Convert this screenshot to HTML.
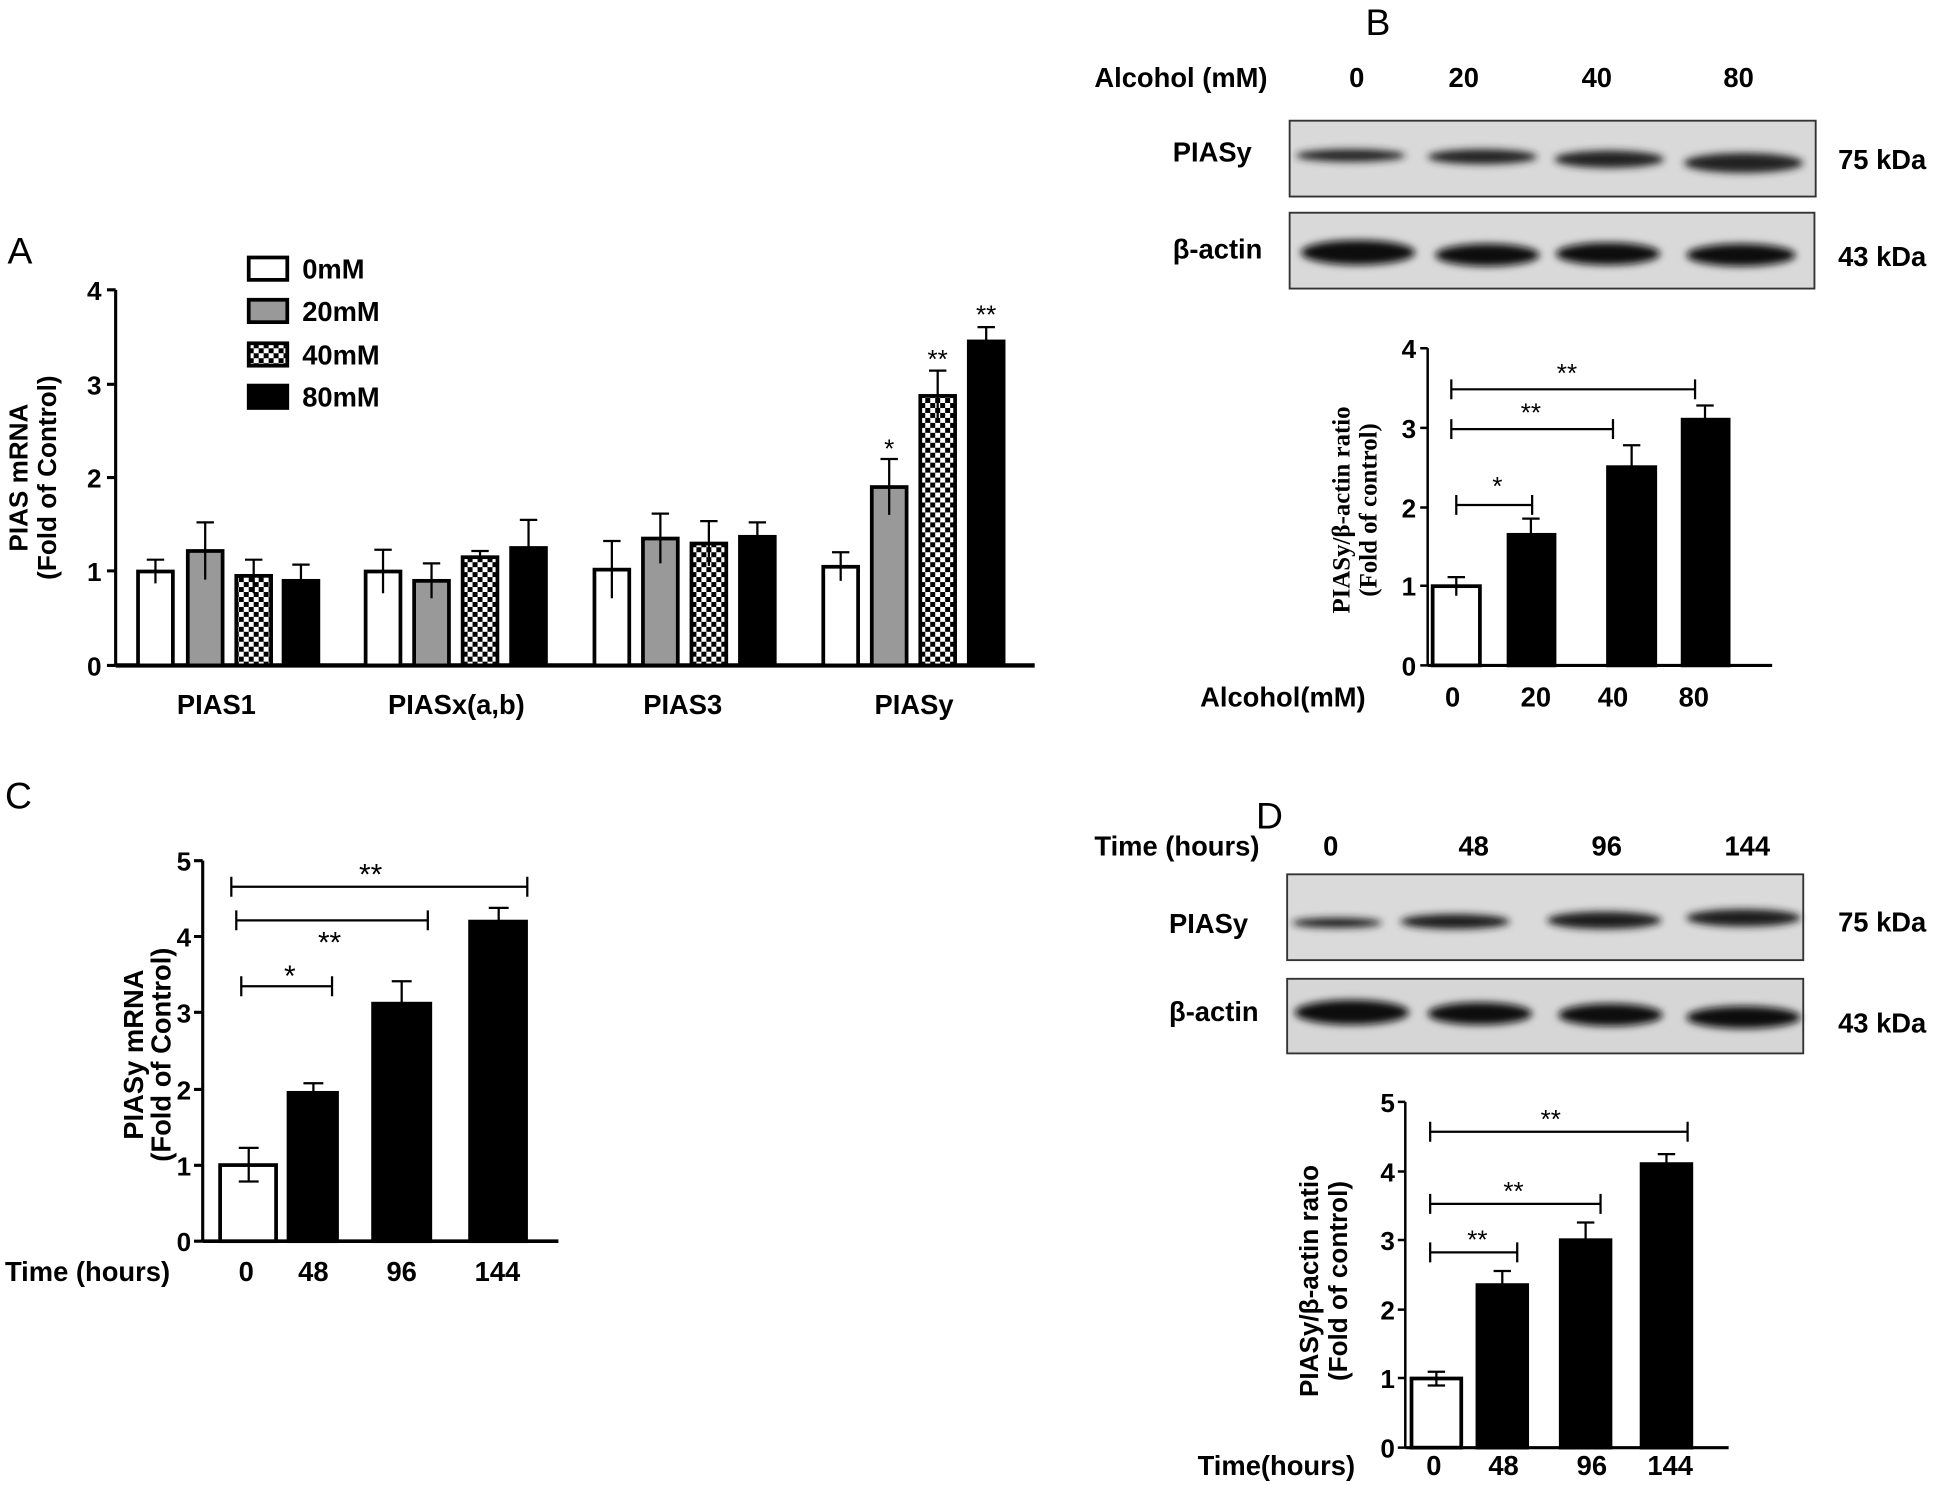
<!DOCTYPE html>
<html><head><meta charset="utf-8"><style>
html,body{margin:0;padding:0;background:#fff}
svg{display:block}
text{font-family:"Liberation Sans Narrow","Liberation Sans",sans-serif;font-weight:bold;fill:#000}
.p{font-family:"Liberation Sans",sans-serif;font-weight:normal;font-size:30px}
.t{font-size:22px}
.tk{font-size:21px}
.s{font-size:21px;font-family:"Liberation Sans",sans-serif;font-weight:normal}
.yl{font-family:"Liberation Sans",sans-serif;font-size:21px}
.ser{font-family:"Liberation Serif",serif;font-size:20px}
</style></head><body>
<svg width="1950" height="1485" viewBox="0 0 1568 1194" xmlns="http://www.w3.org/2000/svg">
<defs>
<pattern id="chk" width="8" height="8" patternUnits="userSpaceOnUse"><rect width="8" height="8" fill="#fff"/><rect width="4" height="4" fill="#000"/><rect x="4" y="4" width="4" height="4" fill="#000"/></pattern>
<filter id="bl" x="-20%" y="-50%" width="140%" height="200%"><feGaussianBlur stdDeviation="3"/></filter>
</defs>
<rect width="1568" height="1194" fill="#fff"/>

<!-- Panel A -->
<text class="p" x="6" y="212">A</text>
<g stroke="#000" stroke-width="3">
<rect x="200" y="207" width="31" height="18" fill="#fff"/>
<rect x="200" y="241" width="31" height="18" fill="#999"/>
<rect x="200" y="276" width="31" height="18" fill="url(#chk)"/>
<rect x="200" y="310" width="31" height="18" fill="#000"/>
</g>
<text class="t" x="243" y="224">0mM</text>
<text class="t" x="243" y="258">20mM</text>
<text class="t" x="243" y="293">40mM</text>
<text class="t" x="243" y="327">80mM</text>
<g stroke="#000" stroke-width="2.5" fill="none">
<path d="M93,233V535M86,233H93M86,309H93M86,384H93M86,459H93M86,535H93"/>
<path d="M93,535H832" stroke-width="3.5"/>
</g>
<text x="70" y="241" class="tk">4</text><text x="70" y="317" class="tk">3</text><text x="70" y="392" class="tk">2</text><text x="70" y="467" class="tk">1</text><text x="70" y="543" class="tk">0</text>
<g transform="translate(22,384) rotate(-90)"><text class="yl" text-anchor="middle" x="0" y="0">PIAS mRNA</text><text class="yl" text-anchor="middle" x="0" y="23">(Fold of Control)</text></g>
<g stroke="#000" stroke-width="1.8">
<path d="M125,450V469M118,450H132"/><path d="M165,420V466M158,420H172"/><path d="M204,450V477M197,450H211"/><path d="M242,454V480M235,454H249"/>
<path d="M308,442V477M301,442H315"/><path d="M347,453V481M340,453H354"/><path d="M386,443V454M379,443H393"/><path d="M425,418V463M418,418H432"/>
<path d="M492,435V481M485,435H499"/><path d="M531,413V453M524,413H538"/><path d="M570,419V455M563,419H577"/><path d="M609,420V443M602,420H616"/>
<path d="M676,444V467M669,444H683"/><path d="M715,369V414M708,369H722"/><path d="M754,298V339M747,298H761"/><path d="M793,263V286M786,263H800"/>
</g>
<g stroke="#000" stroke-width="3">
<rect x="111" y="459.5" width="28" height="75.5" fill="#fff"/><rect x="151" y="443" width="28" height="92" fill="#999"/><rect x="190" y="463" width="28" height="72" fill="url(#chk)"/><rect x="228" y="467" width="28" height="68" fill="#000"/>
<rect x="294" y="459.5" width="28" height="75.5" fill="#fff"/><rect x="333" y="467" width="28" height="68" fill="#999"/><rect x="372" y="448" width="28" height="87" fill="url(#chk)"/><rect x="411" y="440.6" width="28" height="94.4" fill="#000"/>
<rect x="478" y="458" width="28" height="77" fill="#fff"/><rect x="517" y="433" width="28" height="102" fill="#999"/><rect x="556" y="437" width="28" height="98" fill="url(#chk)"/><rect x="595" y="431.6" width="28" height="103.4" fill="#000"/>
<rect x="662" y="455.7" width="28" height="79.3" fill="#fff"/><rect x="701" y="391.6" width="28" height="143.4" fill="#999"/><rect x="740" y="318.3" width="28" height="216.7" fill="url(#chk)"/><rect x="779" y="274.5" width="28" height="260.5" fill="#000"/>
</g>
<g stroke="#000" stroke-width="1.8">
<path d="M125,459V469M165,443V466M204,463V477M308,459V477M347,467V481M492,458V481M531,433V453M570,437V455M676,456V467M715,392V414M754,318V339"/>
</g>
<text class="s" x="715" y="368" text-anchor="middle">*</text>
<text class="s" x="754" y="296" text-anchor="middle">**</text>
<text class="s" x="793" y="260" text-anchor="middle">**</text>
<text class="t" x="174" y="574" text-anchor="middle">PIAS1</text>
<text class="t" x="367" y="574" text-anchor="middle">PIASx(a,b)</text>
<text class="t" x="549" y="574" text-anchor="middle">PIAS3</text>
<text class="t" x="735" y="574" text-anchor="middle">PIASy</text>

<!-- Panel B -->
<text class="p" x="1098" y="28">B</text>
<text class="t" x="880" y="70">Alcohol (mM)</text>
<text class="t" x="1091" y="70" text-anchor="middle">0</text><text class="t" x="1177" y="70" text-anchor="middle">20</text><text class="t" x="1284" y="70" text-anchor="middle">40</text><text class="t" x="1398" y="70" text-anchor="middle">80</text>
<rect x="1037" y="97" width="423" height="61" fill="#d9d9d9"/>
<g filter="url(#bl)" fill="#222"><ellipse cx="1086" cy="125" rx="44" ry="5"/><ellipse cx="1192" cy="126" rx="44" ry="6"/><ellipse cx="1294" cy="128" rx="44" ry="7"/><ellipse cx="1402" cy="131" rx="48" ry="8"/></g>
<rect x="1037" y="97" width="423" height="61" fill="none" stroke="#333" stroke-width="1.5"/>
<rect x="1037" y="171" width="422" height="61" fill="#d9d9d9"/>
<g filter="url(#bl)" fill="#111"><ellipse cx="1092" cy="203" rx="46" ry="10"/><ellipse cx="1196" cy="205" rx="42" ry="9"/><ellipse cx="1293" cy="204" rx="42" ry="9"/><ellipse cx="1400" cy="205" rx="44" ry="9"/></g>
<rect x="1037" y="171" width="422" height="61" fill="none" stroke="#333" stroke-width="1.5"/>
<text class="t" x="943" y="130">PIASy</text>
<text class="t" x="943" y="208">β-actin</text>
<text class="t" x="1478" y="136">75 kDa</text>
<text class="t" x="1478" y="214">43 kDa</text>
<g stroke="#000" stroke-width="2" fill="none">
<path d="M1148,280V535M1142,280H1148M1142,344H1148M1142,408H1148M1142,471H1148M1142,535H1148"/>
<path d="M1148,535H1425" stroke-width="2.5"/>
</g>
<text class="tk" x="1127" y="288">4</text><text class="tk" x="1127" y="352">3</text><text class="tk" x="1127" y="416">2</text><text class="tk" x="1127" y="479">1</text><text class="tk" x="1127" y="543">0</text>
<g transform="translate(1085,410) rotate(-90)"><text class="ser" font-weight="bold" text-anchor="middle" x="0" y="0">PIASy/β-actin ratio</text><text class="ser" text-anchor="middle" x="0" y="22">(Fold of control)</text></g>
<g stroke="#000" stroke-width="1.8">
<path d="M1171,464V479M1164,464H1178"/><path d="M1231,417V430M1224,417H1238"/><path d="M1312,358V376M1305,358H1319"/><path d="M1371,326V338M1364,326H1378"/>
<path d="M1171,406H1232M1171,398V414M1232,398V414"/>
<path d="M1167,345H1297M1167,337V353M1297,337V353"/>
<path d="M1167,313H1363M1167,305V321M1363,305V321"/>
</g>
<g stroke="#000" stroke-width="3">
<rect x="1152" y="471.3" width="38" height="63.7" fill="#fff"/>
<rect x="1213" y="430" width="37" height="105" fill="#000"/>
<rect x="1293" y="375.6" width="38" height="159.4" fill="#000"/>
<rect x="1353" y="337.4" width="37" height="197.6" fill="#000"/>
</g>
<path d="M1171,471V479" stroke="#000" stroke-width="1.8"/>
<text class="s" x="1204" y="398" text-anchor="middle">*</text>
<text class="s" x="1231" y="339" text-anchor="middle">**</text>
<text class="s" x="1260" y="307" text-anchor="middle">**</text>
<text class="t" x="965" y="568">Alcohol(mM)</text>
<text class="t" x="1168" y="568" text-anchor="middle">0</text><text class="t" x="1235" y="568" text-anchor="middle">20</text><text class="t" x="1297" y="568" text-anchor="middle">40</text><text class="t" x="1362" y="568" text-anchor="middle">80</text>

<!-- Panel C -->
<text class="p" x="4" y="650">C</text>
<g stroke="#000" stroke-width="2.5" fill="none">
<path d="M163,692V998M156,692H163M156,753H163M156,814H163M156,876H163M156,937H163M156,998H163"/>
<path d="M163,998H449" stroke-width="3"/>
</g>
<text class="tk" x="142" y="700">5</text><text class="tk" x="142" y="761">4</text><text class="tk" x="142" y="822">3</text><text class="tk" x="142" y="884">2</text><text class="tk" x="142" y="945">1</text><text class="tk" x="142" y="1006">0</text>
<g transform="translate(115,848) rotate(-90)"><text class="yl" text-anchor="middle" x="0" y="0" style="font-size:22px">PIASy mRNA</text><text class="yl" text-anchor="middle" x="0" y="22" style="font-size:22px">(Fold of Control)</text></g>
<g stroke="#000" stroke-width="1.8">
<path d="M200,923V950M192,923H208"/><path d="M252,871V879M244,871H260"/><path d="M323,789V807M315,789H331"/><path d="M401,730V741M393,730H409"/>
<path d="M194,793H267M194,785V801M267,785V801"/>
<path d="M190,740H344M190,732V748M344,732V748"/>
<path d="M186,713H424M186,705V721M424,705V721"/>
</g>
<g stroke="#000" stroke-width="3">
<rect x="177" y="936.8" width="45" height="61.2" fill="#fff"/>
<rect x="232" y="878.7" width="39" height="119.3" fill="#000"/>
<rect x="300" y="807" width="46" height="191" fill="#000"/>
<rect x="378" y="741" width="45" height="257" fill="#000"/>
</g>
<path d="M200,937V950M192,950H208" stroke="#000" stroke-width="1.8"/>
<text class="s" x="233" y="793" text-anchor="middle" style="font-size:24px">*</text>
<text class="s" x="265" y="766" text-anchor="middle" style="font-size:24px">**</text>
<text class="s" x="298" y="711" text-anchor="middle" style="font-size:24px">**</text>
<text class="t" x="4" y="1030">Time (hours)</text>
<text class="t" x="198" y="1030" text-anchor="middle">0</text><text class="t" x="252" y="1030" text-anchor="middle">48</text><text class="t" x="323" y="1030" text-anchor="middle">96</text><text class="t" x="400" y="1030" text-anchor="middle">144</text>

<!-- Panel D -->
<text class="p" x="1010" y="666">D</text>
<text class="t" x="880" y="688">Time (hours)</text>
<text class="t" x="1070" y="688" text-anchor="middle">0</text><text class="t" x="1185" y="688" text-anchor="middle">48</text><text class="t" x="1292" y="688" text-anchor="middle">96</text><text class="t" x="1405" y="688" text-anchor="middle">144</text>
<rect x="1035" y="703" width="415" height="69" fill="#dadada"/>
<g filter="url(#bl)" fill="#1a1a1a"><ellipse cx="1075" cy="742" rx="36" ry="4"/><ellipse cx="1170" cy="741" rx="44" ry="6"/><ellipse cx="1290" cy="740" rx="46" ry="7"/><ellipse cx="1402" cy="738" rx="46" ry="7"/></g>
<rect x="1035" y="703" width="415" height="69" fill="none" stroke="#333" stroke-width="1.5"/>
<rect x="1035" y="787" width="415" height="60" fill="#d6d6d6"/>
<g filter="url(#bl)" fill="#111"><ellipse cx="1087" cy="814" rx="46" ry="10"/><ellipse cx="1190" cy="815" rx="42" ry="9"/><ellipse cx="1295" cy="816" rx="42" ry="9"/><ellipse cx="1402" cy="818" rx="46" ry="9"/></g>
<rect x="1035" y="787" width="415" height="60" fill="none" stroke="#333" stroke-width="1.5"/>
<text class="t" x="940" y="750">PIASy</text>
<text class="t" x="940" y="821">β-actin</text>
<text class="t" x="1478" y="749">75 kDa</text>
<text class="t" x="1478" y="830">43 kDa</text>
<g stroke="#000" stroke-width="2" fill="none">
<path d="M1130,886V1164M1124,886H1130M1124,942H1130M1124,997H1130M1124,1053H1130M1124,1108H1130M1124,1164H1130"/>
<path d="M1130,1164H1390" stroke-width="2.5"/>
</g>
<text class="tk" x="1110" y="894">5</text><text class="tk" x="1110" y="950">4</text><text class="tk" x="1110" y="1005">3</text><text class="tk" x="1110" y="1061">2</text><text class="tk" x="1110" y="1116">1</text><text class="tk" x="1110" y="1172">0</text>
<g transform="translate(1060,1030) rotate(-90)"><text class="yl" text-anchor="middle" x="0" y="0" style="font-size:21px">PIASy/β-actin ratio</text><text class="yl" text-anchor="middle" x="0" y="23" style="font-size:21px">(Fold of control)</text></g>
<g stroke="#000" stroke-width="1.8">
<path d="M1155,1103V1114M1148,1103H1162"/><path d="M1208,1022V1033M1201,1022H1215"/><path d="M1275,983V997M1268,983H1282"/><path d="M1340,928V936M1333,928H1347"/>
<path d="M1150,1007H1220M1150,999V1015M1220,999V1015"/>
<path d="M1150,968H1287M1150,960V976M1287,960V976"/>
<path d="M1150,910H1357M1150,902V918M1357,902V918"/>
</g>
<g stroke="#000" stroke-width="3">
<rect x="1135" y="1108.4" width="40" height="55.6" fill="#fff"/>
<rect x="1188" y="1033.3" width="40" height="130.7" fill="#000"/>
<rect x="1255" y="997.2" width="40" height="166.8" fill="#000"/>
<rect x="1320" y="936" width="40" height="228" fill="#000"/>
</g>
<path d="M1155,1108V1114M1148,1114H1162" stroke="#000" stroke-width="1.8"/>
<text class="s" x="1188" y="1004" text-anchor="middle">**</text>
<text class="s" x="1217" y="965" text-anchor="middle">**</text>
<text class="s" x="1247" y="907" text-anchor="middle">**</text>
<text class="t" x="963" y="1186">Time(hours)</text>
<text class="t" x="1153" y="1186" text-anchor="middle">0</text><text class="t" x="1209" y="1186" text-anchor="middle">48</text><text class="t" x="1280" y="1186" text-anchor="middle">96</text><text class="t" x="1343" y="1186" text-anchor="middle">144</text>
</svg>
</body></html>
